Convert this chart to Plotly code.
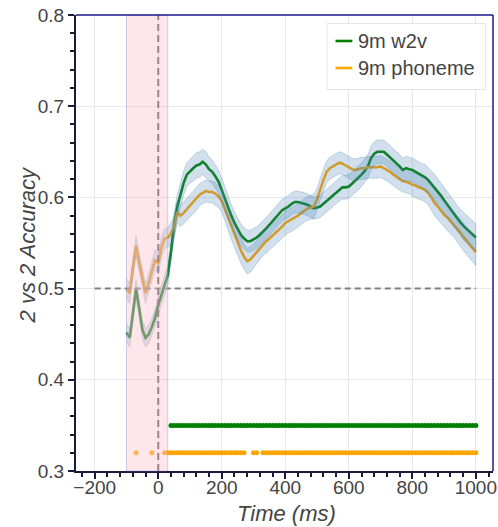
import plotly.graph_objects as go

# Time axis (ms), 10 ms resolution
time = list(range(-100, 1001, 10))

# Mean 2 vs 2 accuracy for each model
w2v_mean = [
    0.452, 0.446, 0.472, 0.500, 0.478, 0.455, 0.446, 0.450, 0.458, 0.468,
    0.482, 0.493, 0.503, 0.515, 0.540, 0.570, 0.590, 0.602, 0.616, 0.625,
    0.629, 0.632, 0.635, 0.636, 0.639, 0.636, 0.631, 0.628, 0.623, 0.617,
    0.608, 0.598, 0.588, 0.580, 0.572, 0.565, 0.559, 0.555, 0.552, 0.552,
    0.554, 0.556, 0.559, 0.562, 0.566, 0.570, 0.574, 0.578, 0.582, 0.586,
    0.588, 0.590, 0.593, 0.595, 0.595, 0.594, 0.593, 0.592, 0.590, 0.588,
    0.589, 0.590, 0.593, 0.596, 0.600, 0.603, 0.606, 0.609, 0.611, 0.611,
    0.612, 0.615, 0.618, 0.621, 0.625, 0.629, 0.634, 0.643, 0.648, 0.650,
    0.650, 0.650, 0.647, 0.644, 0.641, 0.637, 0.634, 0.630, 0.632, 0.631,
    0.630, 0.628, 0.626, 0.624, 0.622, 0.619, 0.615, 0.611, 0.607, 0.602,
    0.597, 0.592, 0.588, 0.582, 0.577, 0.573, 0.569, 0.566, 0.562, 0.559,
    0.556,
]
phoneme_mean = [
    0.500, 0.495, 0.522, 0.547, 0.528, 0.512, 0.495, 0.506, 0.520, 0.532,
    0.527, 0.545, 0.555, 0.556, 0.560, 0.568, 0.584, 0.580, 0.583, 0.587,
    0.590, 0.594, 0.598, 0.603, 0.605, 0.607, 0.606, 0.606, 0.604, 0.601,
    0.596, 0.587, 0.577, 0.567, 0.559, 0.550, 0.542, 0.535, 0.530, 0.532,
    0.536, 0.540, 0.545, 0.549, 0.552, 0.555, 0.558, 0.562, 0.565, 0.568,
    0.572, 0.574, 0.576, 0.578, 0.580, 0.583, 0.586, 0.588, 0.589, 0.590,
    0.598, 0.609, 0.619, 0.628, 0.632, 0.634, 0.636, 0.638, 0.637, 0.635,
    0.633, 0.631, 0.630, 0.631, 0.632, 0.632, 0.633, 0.633, 0.633, 0.633,
    0.634, 0.632, 0.630, 0.628, 0.625, 0.622, 0.620, 0.618, 0.617, 0.616,
    0.614, 0.613, 0.611, 0.610, 0.608, 0.605, 0.600, 0.594, 0.590, 0.585,
    0.581, 0.578, 0.574, 0.571, 0.566, 0.562, 0.557, 0.553, 0.548, 0.544,
    0.540,
]

# Half-width of the confidence band around each mean
w2v_err = [
    0.010, 0.010, 0.010, 0.010, 0.010, 0.010, 0.010, 0.010, 0.010, 0.010,
    0.010, 0.010, 0.010, 0.011, 0.012, 0.013, 0.013, 0.013, 0.013, 0.013,
    0.013, 0.014, 0.014, 0.014, 0.014, 0.014, 0.013, 0.013, 0.013, 0.013,
    0.013, 0.013, 0.012, 0.012, 0.012, 0.012, 0.012, 0.012, 0.012, 0.012,
    0.012, 0.012, 0.012, 0.012, 0.012, 0.012, 0.012, 0.012, 0.012, 0.012,
    0.012, 0.012, 0.012, 0.012, 0.012, 0.012, 0.012, 0.012, 0.012, 0.012,
    0.012, 0.012, 0.013, 0.013, 0.013, 0.013, 0.013, 0.013, 0.013, 0.013,
    0.013, 0.013, 0.013, 0.013, 0.013, 0.013, 0.013, 0.013, 0.013, 0.013,
    0.013, 0.013, 0.013, 0.013, 0.013, 0.013, 0.013, 0.013, 0.013, 0.013,
    0.013, 0.013, 0.013, 0.013, 0.014, 0.014, 0.014, 0.014, 0.014, 0.014,
    0.014, 0.014, 0.014, 0.014, 0.014, 0.014, 0.015, 0.015, 0.015, 0.015,
    0.015,
]
phoneme_err = [
    0.011, 0.011, 0.011, 0.011, 0.011, 0.011, 0.011, 0.011, 0.011, 0.011,
    0.011, 0.011, 0.011, 0.011, 0.012, 0.012, 0.012, 0.012, 0.012, 0.012,
    0.012, 0.012, 0.012, 0.012, 0.012, 0.012, 0.012, 0.012, 0.012, 0.012,
    0.012, 0.013, 0.013, 0.013, 0.013, 0.014, 0.014, 0.014, 0.014, 0.014,
    0.013, 0.013, 0.013, 0.013, 0.013, 0.013, 0.013, 0.013, 0.013, 0.013,
    0.013, 0.013, 0.013, 0.013, 0.013, 0.013, 0.013, 0.013, 0.013, 0.013,
    0.012, 0.012, 0.012, 0.012, 0.012, 0.012, 0.012, 0.012, 0.012, 0.012,
    0.012, 0.012, 0.012, 0.012, 0.012, 0.012, 0.012, 0.012, 0.012, 0.012,
    0.012, 0.012, 0.012, 0.012, 0.012, 0.012, 0.012, 0.012, 0.012, 0.012,
    0.013, 0.013, 0.013, 0.013, 0.013, 0.013, 0.014, 0.014, 0.014, 0.014,
    0.014, 0.014, 0.014, 0.014, 0.014, 0.015, 0.015, 0.015, 0.015, 0.015,
    0.015,
]

# Significant time windows (start, end in ms) and the row each is drawn on
w2v_sig_windows = [(40, 1000)]
phoneme_sig_windows = [(-70, -70), (-20, -20), (20, 270), (300, 310), (330, 1000)]
w2v_sig_row = 0.35
phoneme_sig_row = 0.32

chance_level = 0.5
chance_span = [-200, 1000]
window_start, window_end = -100, 30   # shaded window
onset = 0

series = [
    ("9m w2v", w2v_mean, w2v_err, "#008000", w2v_sig_windows, w2v_sig_row),
    ("9m phoneme", phoneme_mean, phoneme_err, "#FFA500", phoneme_sig_windows, phoneme_sig_row),
]

FONT = "Liberation Sans, Arial, Helvetica, sans-serif"
TEXT = "#444444"
AXIS = "#1c1c3a"
OUTLINE = "#1a1a8c"

# page / plot-area geometry (px)
W, H = 498, 527
ML, MR, MT, MB = 76, 1, 15, 56
PW, PH = W - ML - MR, H - MT - MB


def px_x(px):
    """Horizontal pixel position -> paper fraction."""
    return (px - ML) / PW


def px_y(py):
    """Vertical pixel position (from top) -> paper fraction."""
    return 1 - (py - MT) / PH


fig = go.Figure()

# mean curves
for name, mean, err, color, _, _ in series:
    fig.add_trace(go.Scatter(
        x=time, y=mean, mode="lines", name=name,
        line=dict(color=color, width=2.6), showlegend=False,
    ))

# confidence bands drawn over the curves
for name, mean, err, color, _, _ in series:
    upper = [m + e for m, e in zip(mean, err)]
    lower = [m - e for m, e in zip(mean, err)]
    fig.add_trace(go.Scatter(
        x=time + time[::-1], y=upper + lower[::-1],
        fill="toself", fillcolor="rgba(70,130,180,0.25)",
        line=dict(color="rgba(70,130,180,0.28)", width=1),
        mode="lines", hoverinfo="skip", showlegend=False,
    ))

# chance level
fig.add_trace(go.Scatter(
    x=chance_span, y=[chance_level, chance_level], mode="lines",
    line=dict(color="#808080", width=2, dash="6px,4px"),
    hoverinfo="skip", showlegend=False,
))

# significance markers
for name, mean, err, color, windows, row in series:
    sig_t = [t for t in time if any(a <= t <= b for a, b in windows)]
    fig.add_trace(go.Scatter(
        x=sig_t, y=[row] * len(sig_t), mode="markers",
        marker=dict(color=color, size=5, line=dict(width=0)),
        hoverinfo="skip", showlegend=False,
    ))

shapes = [
    # stimulus onset
    dict(type="line", xref="x", yref="paper", x0=onset, x1=onset, y0=0, y1=1,
         line=dict(color="#5c5c5c", width=2, dash="7px,4px"), layer="above"),
    # shaded window
    dict(type="rect", xref="x", yref="paper", x0=window_start, x1=window_end, y0=0, y1=1,
         fillcolor="rgba(255,192,203,0.4)",
         line=dict(color="rgba(110,130,200,0.35)", width=1), layer="above"),
    # frame top and right
    dict(type="line", xref="paper", yref="paper", x0=0, x1=1, y0=1, y1=1,
         line=dict(color=OUTLINE, width=1.5), layer="above"),
    dict(type="line", xref="paper", yref="paper", x0=1, x1=1, y0=0, y1=1,
         line=dict(color=OUTLINE, width=1.5), layer="above"),
    # legend box
    dict(type="rect", xref="paper", yref="paper",
         x0=px_x(329.5), x1=px_x(489.5), y0=px_y(89.5), y1=px_y(23.5),
         fillcolor="rgba(255,255,255,0.95)", line=dict(color="#e6e6e6", width=1),
         layer="above"),
]

annotations = []
# legend entries
for (name, _, _, color, _, _), py in zip(series, [41, 68]):
    shapes.append(dict(type="line", xref="paper", yref="paper",
                       x0=px_x(338), x1=px_x(355), y0=px_y(py), y1=px_y(py),
                       line=dict(color=color, width=2.6), layer="above"))
    annotations.append(dict(xref="paper", yref="paper", x=px_x(359), y=px_y(py),
                            xanchor="left", yanchor="middle", showarrow=False,
                            text=name, font=dict(family=FONT, size=20, color=TEXT)))

# axis titles
annotations.append(dict(xref="paper", yref="paper", x=px_x(27), y=px_y(245),
                        xanchor="center", yanchor="middle", showarrow=False,
                        textangle=-90, text="2 vs 2 Accuracy",
                        font=dict(family=FONT, size=22, color=TEXT, style="italic")))
annotations.append(dict(xref="paper", yref="paper", x=px_x(289), y=px_y(513),
                        xanchor="center", yanchor="middle", showarrow=False,
                        text="Time (ms)",
                        font=dict(family=FONT, size=22, color=TEXT, style="italic")))

fig.update_layout(
    width=W, height=H,
    margin=dict(l=ML, r=MR, t=MT, b=MB),
    paper_bgcolor="white", plot_bgcolor="white",
    font=dict(family=FONT, color=TEXT, size=19),
    shapes=shapes, annotations=annotations,
    showlegend=False,
    xaxis=dict(
        range=[-259, 1054], tick0=0, dtick=200,
        showgrid=True, gridcolor="#e8e8e8", gridwidth=1, zeroline=False,
        showline=True, linecolor=AXIS, linewidth=2,
        ticks="outside", ticklen=6, tickwidth=1.5, tickcolor=AXIS,
        minor=dict(dtick=40, ticks="outside", ticklen=4, tickwidth=1.5,
                   tickcolor=AXIS, showgrid=False),
        ticklabeloverflow="allow", ticklabelstandoff=-8,
        tickfont=dict(family=FONT, size=19, color=TEXT),
    ),
    yaxis=dict(
        range=[0.3, 0.8], tick0=0.3, dtick=0.1, tickformat=".1f",
        showgrid=True, gridcolor="#e8e8e8", gridwidth=1, zeroline=False,
        showline=True, linecolor=AXIS, linewidth=2,
        ticks="outside", ticklen=6, tickwidth=1.5, tickcolor=AXIS,
        minor=dict(dtick=0.02, ticks="outside", ticklen=4, tickwidth=1.5,
                   tickcolor=AXIS, showgrid=False),
        tickfont=dict(family=FONT, size=19, color=TEXT),
    ),
)

fig.write_html("out.html")
